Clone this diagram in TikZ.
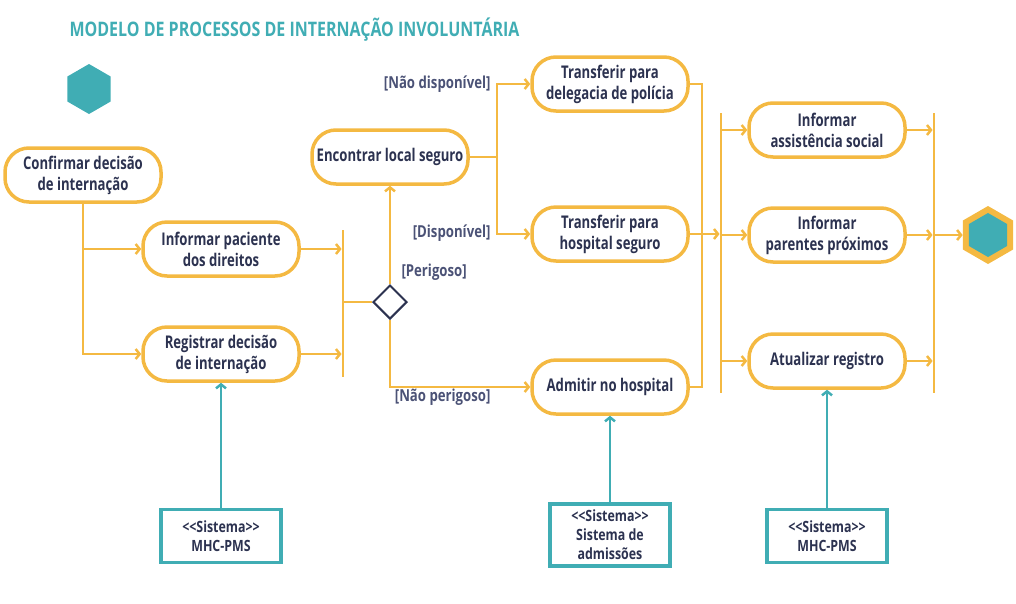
\documentclass[tikz,border=0pt]{standalone}
\usepackage{fontspec}
\setmainfont[FakeStretch=0.8]{Open Sans}
\newfontfamily\narrowfont[FakeStretch=0.75]{Open Sans}
\usetikzlibrary{arrows.meta,shapes.geometric}
\definecolor{actorange}{HTML}{F4B942}
\definecolor{systeal}{HTML}{40ADB4}
\definecolor{textnavy}{HTML}{2C3250}
\definecolor{guardgrey}{HTML}{4B5276}

\begin{document}
\begin{tikzpicture} [x=1pt, y=-1pt,
                    every node/.style={font=\bfseries\fontsize{16.5}{20}\selectfont, text=textnavy},
                    act/.style={rectangle, draw=actorange, line width=3.5pt, rounded corners=24pt,
                                minimum width=156pt, minimum height=54pt, align=center, inner sep=0pt,
                                font=\narrowfont\bfseries\fontsize{17.5}{21}\selectfont},
                    sys/.style={rectangle, draw=systeal, line width=3.5pt, minimum width=120pt,
                                minimum height=53pt, align=center, inner sep=0pt,
                                font=\bfseries\fontsize{15.5}{19}\selectfont},
                    bar/.style={rectangle, fill=actorange, minimum width=2.5pt, inner sep=0pt},
                    guard/.style={text=guardgrey},
                    hexa/.style={regular polygon, regular polygon sides=6, shape border rotate=30, inner sep=0pt},
                    flow/.style={draw=actorange, line width=2.5pt, -{Straight Barb[length=4pt,width=10pt]}},
                    line/.style={draw=actorange, line width=2.5pt},
                    uses/.style={draw=systeal, line width=2.5pt, -{Straight Barb[length=4pt,width=10pt]}}]
                    \useasboundingbox (0,0) rectangle (1016,603);
                    \node[anchor=west, text=systeal, font=\bfseries\fontsize{20}{24}\selectfont] (title) at (66,30) {MODELO DE PROCESSOS DE INTERNAÇÃO INVOLUNTÁRIA};
                    \node[hexa, fill=systeal, minimum size=50pt] (start) at (89,89) {};
                    % activities
                    \node[act] (confirm) at (83,175) {Confirmar decisão\\de internação};
                    \node[act] (inform) at (221,249) {Informar paciente\\dos direitos};
                    \node[act] (regist) at (221,354) {Registrar decisão\\de internação};
                    \node[act] (find) at (390,157) {Encontrar local seguro};
                    \node[act] (deleg) at (610,84) {Transferir para\\delegacia de polícia};
                    \node[act] (safe) at (610,234) {Transferir para\\hospital seguro};
                    \node[act] (admit) at (610,387) {Admitir no hospital};
                    \node[act] (social) at (827,130) {Informar\\assistência social};
                    \node[act] (relat) at (827,235) {Informar\\parentes próximos};
                    \node[act] (update) at (827,361) {Atualizar registro};
                    % bars, decision, end
                    \node[bar, minimum height=147pt] (join1) at (343,303.5) {};
                    \node[bar, minimum height=280pt] (fork) at (721,253) {};
                    \node[bar, minimum height=280pt] (join2) at (934,253) {};
                    \node[diamond, draw=textnavy, line width=2pt, minimum size=34pt, inner sep=0pt] (dec) at (390,302) {};
                    \node[hexa, fill=actorange, minimum size=58pt] (stop) at (988,235) {};
                    \node[hexa, fill=systeal, minimum size=44pt] (stopin) at (988,235) {};
                    \coordinate (split) at (497,157);
                    \coordinate (merge) at (702,234);
                    % systems
                    \node[sys] (sys1) at (221,536) {<\kern0pt<Sistema>\kern0pt>\\MHC-PMS};
                    \node[sys, minimum height=62pt] (sys2) at (610,535) {<\kern0pt<Sistema>\kern0pt>\\Sistema de\\admissões};
                    \node[sys] (sys3) at (827,536) {<\kern0pt<Sistema>\kern0pt>\\MHC-PMS};
                    % guards
                    \node[guard, anchor=east] (g1) at (494,84) {[Não disponível]};
                    \node[guard, anchor=east] (g2) at (494,233) {[Disponível]};
                    \node[guard, anchor=west] (g3) at (398,272) {[Perigoso]};
                    \node[guard, anchor=east] (g4) at (494,397) {[Não perigoso]};
                    % flows
                    \draw[flow] (confirm.south) |- (inform.west);
                    \draw[flow] (confirm.south) |- (regist.west);
                    \draw[flow] (inform.east) -- (inform.east -| join1.west);
                    \draw[flow] (regist.east) -- (regist.east -| join1.west);
                    \draw[line] (join1.east |- dec.west) -- (dec.west);
                    \draw[flow] (dec.north) -- (find.south);
                    \draw[flow] (dec.south) |- (admit.west);
                    \draw[line] (find.east) -- (split);
                    \draw[flow] (split) |- (deleg.west);
                    \draw[flow] (split) |- (safe.west);
                    \draw[line] (deleg.east) -| (merge);
                    \draw[line] (admit.east) -| (merge);
                    \draw[flow] (safe.east) -- (safe.east -| fork.west);
                    \draw[flow] (fork.east |- social.west) -- (social.west);
                    \draw[flow] (fork.east |- relat.west) -- (relat.west);
                    \draw[flow] (fork.east |- update.west) -- (update.west);
                    \draw[flow] (social.east) -- (social.east -| join2.west);
                    \draw[flow] (relat.east) -- (relat.east -| join2.west);
                    \draw[flow] (update.east) -- (update.east -| join2.west);
                    \draw[flow] (join2.east |- stop.west) -- (stop.west);
                    \draw[uses] (sys1.north) -- (regist.south);
                    \draw[uses] (sys2.north) -- (admit.south);
                    \draw[uses] (sys3.north) -- (update.south);
                \end{tikzpicture}
\end{document}
